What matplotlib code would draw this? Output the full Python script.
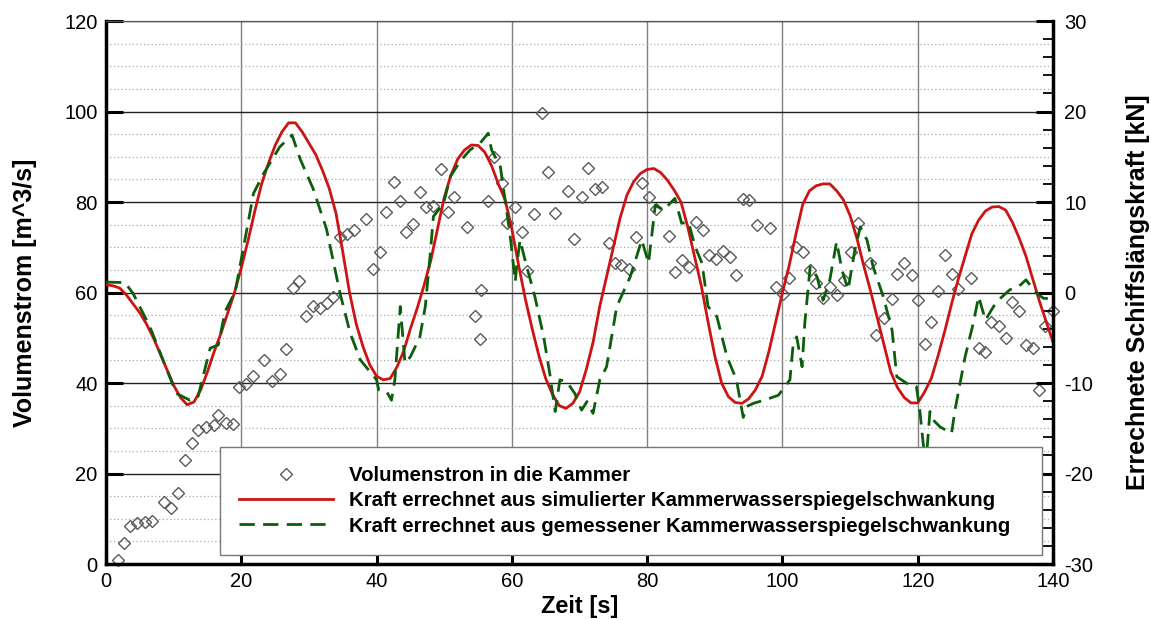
import numpy as np
import matplotlib.pyplot as plt
import matplotlib
from matplotlib.ticker import MultipleLocator

matplotlib.rc('font', family='Liberation Sans', size=14.5)
matplotlib.rc('axes', unicode_minus=False)

# Volumenstrom in die Kammer [m^3/s]
t_flow = [1.7, 2.7, 3.6, 4.6, 5.8, 6.8, 8.6, 9.6, 10.7, 11.7,
          12.7, 13.6, 14.8, 15.9, 16.6, 17.7, 18.7, 19.6, 20.7, 21.7,
          23.4, 24.6, 25.7, 26.6, 27.6, 28.6, 29.5, 30.6, 31.6, 32.6,
          33.6, 34.6, 35.6, 36.6, 38.5, 39.5, 40.5, 41.4, 42.5, 43.4,
          44.4, 45.4, 46.4, 47.3, 48.3, 49.5, 50.6, 51.4, 53.4, 54.5,
          55.3, 55.4, 56.4, 57.4, 58.5, 59.3, 60.4, 61.5, 62.3, 63.3,
          64.4, 65.4, 66.4, 68.3, 69.2, 70.3, 71.3, 72.3, 73.3, 74.3,
          75.2, 76.2, 77.3, 78.3, 79.3, 80.3, 81.3, 83.3, 84.1, 85.1,
          86.2, 87.2, 88.2, 89.2, 90.2, 91.2, 92.3, 93.2, 94.1, 95.1,
          96.2, 98.1, 99.1, 100.1, 101.0, 102.0, 103.1, 104.0, 105.0, 106.0,
          107.0, 108.1, 109.1, 110.1, 111.1, 113.0, 113.9, 115.0, 116.2, 117.0,
          118.0, 119.1, 120.1, 121.0, 122.0, 123.0, 124.1, 125.1, 126.0, 127.9,
          129.0, 130.0, 130.9, 132.0, 133.0, 134.0, 134.9, 136.0, 137.0, 137.9,
          138.8, 140.0]
q_flow = [0.9, 4.6, 8.3, 9.1, 9.2, 9.6, 13.6, 12.4, 15.7, 22.9,
          26.8, 29.6, 30.2, 30.7, 32.9, 31.2, 30.9, 39.2, 39.7, 41.5,
          45.1, 40.4, 42.0, 47.6, 61.0, 62.6, 54.9, 57.1, 56.6, 57.6,
          59.0, 72.2, 72.9, 73.8, 76.3, 65.2, 68.9, 77.8, 84.4, 80.2,
          73.3, 75.2, 82.2, 79.0, 79.1, 87.4, 77.9, 81.2, 74.5, 54.7,
          49.8, 60.6, 80.3, 89.9, 84.3, 75.4, 79.0, 73.4, 64.7, 77.4,
          99.6, 86.7, 77.6, 82.5, 71.8, 81.2, 87.6, 82.8, 83.4, 70.9,
          66.6, 66.1, 65.2, 72.3, 84.3, 81.2, 78.4, 72.5, 64.6, 67.2,
          65.7, 75.6, 73.8, 68.3, 67.3, 69.2, 67.9, 63.9, 80.7, 80.4,
          75.0, 74.2, 61.2, 59.7, 63.1, 70.1, 68.9, 65.0, 62.2, 58.7,
          61.3, 59.4, 62.8, 68.9, 75.3, 66.5, 50.6, 54.3, 58.5, 64.0,
          66.6, 63.9, 58.3, 48.6, 53.4, 60.3, 68.4, 64.2, 60.7, 63.1,
          47.7, 46.9, 53.4, 52.5, 50.0, 57.8, 56.0, 48.4, 47.7, 38.5,
          52.6, 56.0]

# Kraft aus simulierter Kammerwasserspiegelschwankung [kN], 1 s Schritte
t_sim = list(range(0, 141))
f_sim = [0.85, 0.75, 0.5, -0.25, -1.25, -2.25, -3.5, -5.0, -6.75, -8.5,
         -10.25, -11.6, -12.4, -12.1, -10.75, -8.75, -6.5, -4.5, -2.25, 0.0,
         2.75, 5.75, 9.0, 12.0, 14.25, 16.25, 17.75, 18.75, 18.75, 17.75,
         16.5, 15.25, 13.5, 11.5, 8.75, 4.5, 0.0, -3.5, -6.0, -8.0,
         -9.25, -9.65, -9.5, -8.25, -6.5, -4.0, -1.75, 0.75, 3.5, 7.0,
         10.5, 13.0, 14.75, 15.75, 16.3, 16.25, 15.5, 14.0, 12.0, 10.25,
         7.0, 3.0, -0.75, -4.0, -7.0, -9.5, -11.25, -12.5, -12.8, -12.25,
         -11.0, -8.5, -5.5, -1.5, 1.75, 5.0, 8.25, 10.75, 12.25, 13.15,
         13.6, 13.7, 13.25, 12.4, 11.3, 10.0, 7.25, 4.0, 0.75, -3.25,
         -7.0, -10.0, -11.5, -12.15, -12.25, -11.75, -10.75, -9.25, -6.5, -3.25,
         0.0, 3.0, 6.5, 9.75, 11.25, 11.8, 12.0, 12.0, 11.25, 10.25,
         8.5, 6.0, 3.0, 0.25, -2.75, -5.75, -8.75, -10.5, -11.6, -12.2,
         -12.2, -11.0, -9.5, -7.0, -4.25, -1.25, 1.5, 4.0, 6.5, 8.0,
         9.0, 9.45, 9.5, 9.1, 7.75, 6.0, 4.0, 1.5, -1.0, -3.25,
         -5.5]

# Kraft aus gemessener Kammerwasserspiegelschwankung [kN]
t_mess = [0, 2.8, 4.0, 6.5, 9.0, 10.4, 12.4, 13.6, 15.4, 16.6,
          17.6, 19.1, 20.8, 21.8, 23.3, 25.7, 27.5, 28.7, 30.6, 32.6,
          34.6, 36.1, 37.6, 40.0, 40.3, 41.5, 42.2, 42.7, 43.5, 44.2,
          45.0, 46.4, 47.2, 47.9, 48.4, 49.9, 50.9, 52.3, 53.8, 55.3,
          56.5, 57.0, 58.3, 59.0, 59.7, 60.5, 60.7, 61.2, 62.2, 63.4,
          64.7, 65.6, 66.4, 67.1, 68.1, 69.3, 70.3, 71.1, 72.0, 73.0,
          74.0, 75.5, 77.5, 79.2, 80.2, 81.2, 82.4, 84.1, 85.1, 86.1,
          87.1, 88.1, 89.0, 90.3, 91.8, 93.2, 94.2, 94.7, 95.7, 97.7,
          99.4, 101.1, 101.6, 102.1, 102.9, 103.3, 104.1, 105.1, 106.0, 107.0,
          108.0, 108.8, 109.7, 110.7, 111.5, 112.5, 113.4, 114.9, 116.2, 116.9,
          118.4, 119.8, 120.3, 120.8, 121.2, 121.8, 122.3, 123.3, 125.0, 125.5,
          127.0, 128.2, 129.0, 130.0, 131.2, 132.2, 133.6, 134.9, 136.0, 137.6,
          138.6, 140.0]
f_mess = [1.15, 1.1, -0.1, -3.8, -8.55, -11.15, -11.9, -11.5, -6.15, -5.8,
          -2.1, 0.1, 6.9, 10.95, 13.15, 16.1, 17.4, 14.75, 11.5, 7.0,
          -0.1, -4.5, -7.45, -9.65, -10.75, -10.95, -11.9, -9.65, -1.55, -7.8,
          -7.1, -4.9, -1.55, 4.0, 8.4, 9.85, 12.8, 14.45, 15.75, 16.5,
          17.6, 15.75, 13.9, 10.2, 6.55, 1.2, 2.85, 5.8, 2.85, -0.45,
          -4.9, -8.95, -13.15, -9.65, -9.85, -11.15, -13.0, -12.05, -13.35, -9.65,
          -8.2, -1.55, 1.75, 5.8, 3.25, 9.65, 9.1, 10.4, 7.65, 7.8,
          5.05, 3.25, -1.55, -2.65, -7.1, -9.65, -13.8, -12.6, -12.25, -11.8,
          -11.35, -9.65, -5.6, -4.9, -8.2, -3.4, 2.85, 1.75, -0.85, 1.4,
          5.6, 2.5, 0.3, 4.7, 7.25, 5.8, 2.85, -0.45, -4.15, -9.3,
          -10.05, -10.4, -13.0, -16.65, -19.0, -13.15, -14.1, -14.85, -15.55, -13.0,
          -7.1, -3.4, -0.45, -3.05, -1.55, -0.65, 0.3, 0.65, 1.4, -0.1,
          -0.65, -0.65]

fig = plt.figure(figsize=(11.51, 6.2), dpi=100)
ax = fig.add_axes([0.0921, 0.0903, 0.8228, 0.8758])
ax2 = ax.twinx()

# grid
ax.set_axisbelow(True)
ax.yaxis.set_minor_locator(MultipleLocator(5))
ax.grid(which='major', axis='x', color='#808080', lw=1.0)
ax.grid(which='major', axis='y', color='#222222', lw=1.0)
ax.grid(which='minor', axis='y', color='#aaaaaa', lw=0.9, ls=(0, (1, 2)))

p1, = ax.plot(t_flow, q_flow, ls='none', marker='D', ms=6.5, mfc='none',
              mec='#5a5a5a', mew=1.0, clip_on=False,
              label='Volumenstron in die Kammer')
p2, = ax2.plot(t_sim, f_sim, color='#cc1414', lw=2.0,
               label='Kraft errechnet aus simulierter Kammerwasserspiegelschwankung')
p3, = ax2.plot(t_mess, f_mess, color='#0b5e0b', lw=2.0, dashes=(5.5, 3),
               label='Kraft errechnet aus gemessener Kammerwasserspiegelschwankung')

ax.set_xlim(0, 140)
ax.set_ylim(0, 120)
ax2.set_ylim(-30, 30)
ax.xaxis.set_major_locator(MultipleLocator(20))
ax.yaxis.set_major_locator(MultipleLocator(20))
ax2.yaxis.set_major_locator(MultipleLocator(10))
ax2.yaxis.set_minor_locator(MultipleLocator(2))

ax.tick_params(axis='y', which='major', direction='in', length=12, width=2.2, pad=6)
ax.tick_params(axis='y', which='minor', length=0)
ax.tick_params(axis='x', which='major', direction='in', length=7, width=2.2, pad=6)
ax2.tick_params(axis='y', which='major', direction='in', length=12, width=2.2, pad=8)
ax2.tick_params(axis='y', which='minor', direction='in', length=7, width=1.3)

for s in ['left', 'bottom']:
    ax.spines[s].set_linewidth(2.5)
ax.spines['right'].set_visible(False)
ax.spines['top'].set_linewidth(0.9)
ax.spines['top'].set_color('#555555')
for s in ['left', 'bottom', 'top']:
    ax2.spines[s].set_visible(False)
ax2.spines['right'].set_linewidth(2.5)

ax.set_xlabel('Zeit [s]', fontsize=17, fontweight='bold')
ax.set_ylabel('Volumenstrom [m^3/s]', fontsize=18, fontweight='bold')
ax2.set_ylabel('Errechnete Schiffslängskraft [kN]', fontsize=18, fontweight='bold')
ax.xaxis.set_label_coords(0.5005, -0.057)
ax.yaxis.set_label_coords(-0.073, 0.5)
ax2.yaxis.set_label_coords(1.077, 0.5)

leg = ax2.legend([p1, p2, p3], [p1.get_label(), p2.get_label(), p3.get_label()],
                 loc='lower left', bbox_to_anchor=(0.120, 0.0166, 0.868, 0.2),
                 mode='expand', prop={'weight': 'bold', 'size': 14.7},
                 handlelength=4.6, handletextpad=0.78, borderpad=0.95,
                 labelspacing=0.3, fancybox=False, framealpha=1,
                 edgecolor='#777777', borderaxespad=0)
leg.get_frame().set_linewidth(1.0)

fig.savefig('out.png', dpi=100)
